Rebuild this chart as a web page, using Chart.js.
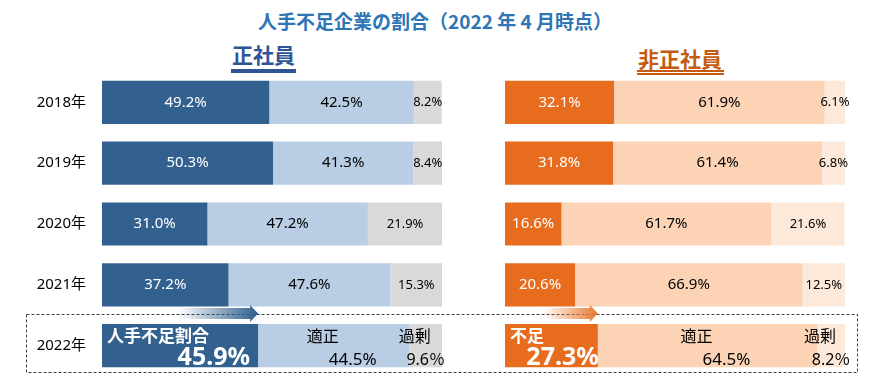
<!DOCTYPE html>
<html>
<head>
<meta charset="utf-8">
<script src="https://cdn.jsdelivr.net/npm/chart.js@4.4.0/dist/chart.umd.min.js"></script>
<style>
  body { margin: 0; background: #fff; }
  #wrap { position: relative; width: 882px; height: 384px; overflow: hidden; font-family: "Noto Sans CJK JP", sans-serif; }
  #wrap canvas, #wrap svg, #wrap div { position: absolute; }
  .title { left: 0; width: 870px; top: 11px; text-align: center; font-size: 19px; font-weight: bold; line-height: 1; color: #2E75B6; }
  .sub { font-size: 21px; font-weight: bold; line-height: 1; }
</style>
</head>
<body>
<div id="wrap">
  <svg width="882" height="384" style="left:0;top:0">
    <rect x="26.5" y="314.5" width="831" height="58" fill="none" stroke="#404040" stroke-dasharray="3 2"/>
  </svg>
  <div class="title">人手不足企業の割合（2022 年 4 月時点）</div>
  <div class="sub" style="left:232px;top:44px;color:#2F5597">正社員</div>
  <div style="left:231px;top:69px;width:65px;height:4px;background:#2F5597"></div>
  <div class="sub" style="left:638px;top:48px;color:#C55A11">非正社員</div>
  <div style="left:637px;top:70px;width:87px;height:1px;border-top:2px solid #C55A11;border-bottom:2px solid #C55A11"></div>
  <canvas id="leftChart" width="450" height="384" style="left:0;top:0"></canvas>
  <canvas id="rightChart" width="432" height="384" style="left:450px;top:0"></canvas>
</div>
<script>
// values (%)
const years = ['2018年', '2019年', '2020年', '2021年', '2022年'];
const regularShort = [49.2, 50.3, 31.0, 37.2, 45.9];
const regularFit = [42.5, 41.3, 47.2, 47.6, 44.5];
const regularSurplus = [8.2, 8.4, 21.9, 15.3, 9.6];
const nonRegularShort = [32.1, 31.8, 16.6, 20.6, 27.3];
const nonRegularFit = [61.9, 61.4, 61.7, 66.9, 64.5];
const nonRegularSurplus = [6.1, 6.8, 21.6, 12.5, 8.2];
const regularNames = ['人手不足割合', '適正', '過剰'];
const nonRegularNames = ['不足', '適正', '過剰'];

const FONT = '"Noto Sans", "Noto Sans CJK JP", sans-serif';
const JP = '"Noto Sans CJK JP", sans-serif';

// labels inside the segments + arrow above the 2022 row
const segLabels = {
    id: 'segLabels',
    afterDatasetsDraw(chart, args, opts) {
        const ctx = chart.ctx;
        const last = chart.data.labels.length - 1;
        ctx.save();

        // arrow
        const b0 = chart.getDatasetMeta(0).data[last];
        const tip = b0.x;
        const yc = b0.y - b0.height / 2 - 10.5;
        const start = tip - opts.arrowLen;
        const g = ctx.createLinearGradient(start, 0, tip, 0);
        g.addColorStop(0, opts.arrowFade);
        g.addColorStop(1, opts.arrowColor);
        ctx.fillStyle = g;
        ctx.beginPath();
        ctx.moveTo(start, yc - 5.5);
        ctx.lineTo(tip - 8, yc - 5.5);
        ctx.lineTo(tip - 8, yc - 8.5);
        ctx.lineTo(tip, yc);
        ctx.lineTo(tip - 8, yc + 8.5);
        ctx.lineTo(tip - 8, yc + 5.5);
        ctx.lineTo(start, yc + 5.5);
        ctx.closePath();
        ctx.fill();

        chart.data.datasets.forEach((ds, d) => {
            chart.getDatasetMeta(d).data.forEach((bar, i) => {
                const v = ds.data[i];
                const cx = (bar.x + bar.base) / 2;
                const top = bar.y - bar.height / 2;
                const bottom = bar.y + bar.height / 2;
                ctx.fillStyle = d == 0 ? '#fff' : '#000';
                if (i < last) {
                    ctx.font = (d == 2 ? '13px ' : '15px ') + FONT;
                    ctx.textAlign = 'center';
                    ctx.textBaseline = 'middle';
                    ctx.fillText(v.toFixed(1) + '%', cx, bar.y);
                    return;
                }
                const name = opts.names[d];
                if (d == 0) {
                    ctx.font = 'bold 17px ' + JP;
                    ctx.textAlign = 'left';
                    ctx.textBaseline = 'middle';
                    ctx.fillText(name, bar.base + 5, top + 12);
                    ctx.font = 'bold 25px ' + FONT;
                    ctx.textAlign = 'right';
                    ctx.textBaseline = 'alphabetic';
                    ctx.fillText(v.toFixed(1) + '%', bar.x + opts.bigDx, bottom - 2);
                } else {
                    ctx.font = '16px ' + JP;
                    ctx.textAlign = 'center';
                    ctx.textBaseline = 'middle';
                    ctx.fillText(name, cx - 11, top + 12);
                    ctx.textBaseline = 'alphabetic';
                    if (d == 1) {
                        ctx.font = '17px ' + FONT;
                        ctx.fillText(v.toFixed(1) + '%', cx + 19, bottom - 2);
                    } else {
                        ctx.font = '16px ' + FONT;
                        ctx.fillText(v.toFixed(1) + '％', cx, bottom - 2);
                    }
                }
            });
        });
        ctx.restore();
    }
};

function makeChart(id, data, colors, showYears, padding, labelOpts) {
    return new Chart(document.getElementById(id), {
        type: 'bar',
        data: {
            labels: years,
            datasets: data.map((arr, k) => ({
                data: arr,
                backgroundColor: colors[k],
                borderWidth: 0,
                barPercentage: 0.71,
                categoryPercentage: 1
            }))
        },
        options: {
            indexAxis: 'y',
            responsive: false,
            animation: false,
            layout: { padding: padding },
            scales: {
                x: { stacked: true, min: 0, max: 100, display: false },
                y: {
                    stacked: true,
                    display: showYears,
                    grid: { display: false },
                    border: { display: false },
                    ticks: { color: '#000', padding: 8, font: { family: FONT, size: 15 } },
                    afterFit: (scale) => {
                        scale.width = showYears ? 102 : 0;
                        scale.paddingTop = 0;
                        scale.paddingBottom = 0;
                    }
                }
            },
            plugins: {
                legend: { display: false },
                tooltip: { enabled: false },
                segLabels: labelOpts
            }
        },
        plugins: [segLabels]
    });
}

makeChart('leftChart',
    [regularShort, regularFit, regularSurplus],
    ['#33618F', '#B9CDE5', '#D9D9D9'],
    true,
    { top: 72, bottom: 8, left: 0, right: 8 },
    { names: regularNames, bigDx: -8, arrowLen: 80, arrowColor: 'rgb(47,93,140)', arrowFade: 'rgba(47,93,140,0)' });

makeChart('rightChart',
    [nonRegularShort, nonRegularFit, nonRegularSurplus],
    ['#E76C1E', '#FCD3B5', '#FDE9D9'],
    false,
    { top: 72, bottom: 8, left: 55, right: 37 },
    { names: nonRegularNames, bigDx: 1, arrowLen: 55, arrowColor: 'rgb(232,122,48)', arrowFade: 'rgba(232,122,48,0)' });
</script>
</body>
</html>
